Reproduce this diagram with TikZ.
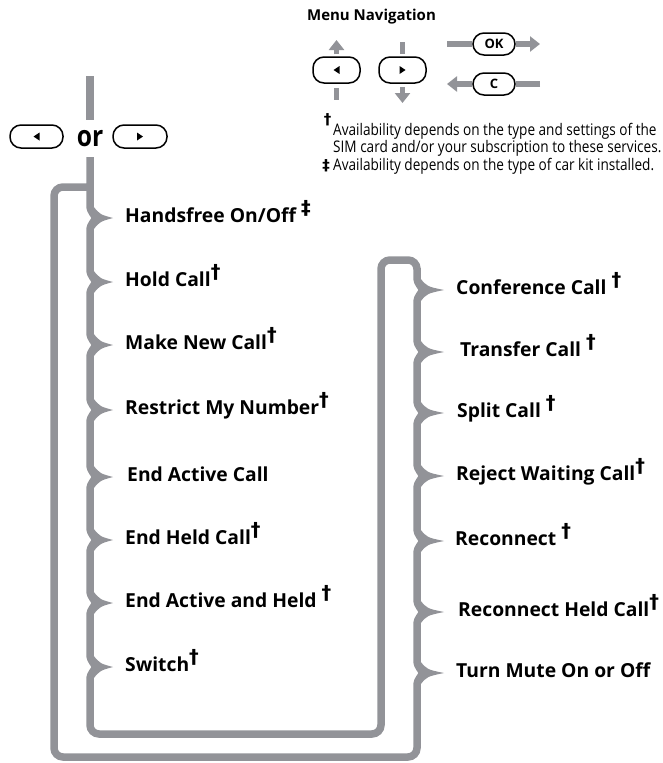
\documentclass[tikz,border=0pt]{standalone}
\usepackage{fontspec}
\setmainfont{Open Sans}
\newfontfamily\narrowfont[FakeStretch=0.85]{Open Sans}
\newfontfamily\markfont{DejaVu Sans}
\usetikzlibrary{arrows.meta,calc}
\definecolor{navgrey}{RGB}{146,147,152}
\newcommand{\dg}{\raisebox{0.38em}{\markfont\bfseries †}}
\newcommand{\ddg}{\raisebox{0.38em}{\markfont\bfseries ‡}}
\begin{document}
\begin{tikzpicture}[x=1pt,y=-1pt,
  navline/.style={navgrey,line width=7.5pt},
  navbar/.style={navgrey,line width=5.5pt},
  navarrow/.style={navbar,-{Triangle[width=15pt,length=10pt]}},
  key/.style={draw,line width=1.5pt,rounded corners=11pt,minimum width=47pt,minimum height=26pt,inner sep=0pt},
  item/.style={anchor=west,inner sep=0pt,text height=11pt,text depth=3pt,font=\fontsize{19.3}{21}\selectfont\bfseries},
  note/.style={anchor=base west,inner sep=0pt,font=\narrowfont\fontsize{16}{18}\selectfont}]
\useasboundingbox (0,0) rectangle (662,763);
% menu navigation key
\node[font=\bfseries\fontsize{15}{17}\selectfont] (title) at (371.5,17) {Menu Navigation};
\node[key] (lb) at (336.5,70) {};
\node[key] (rb) at (402.5,70) {};
\fill ([xshift=-3pt]lb.center) -- ++(6,-4) -- ++(0,8) -- cycle;
\fill ([xshift=3pt]rb.center) -- ++(-6,-4) -- ++(0,8) -- cycle;
\coordinate (lbup) at (336.5,40);
\coordinate (lbdown) at (336.5,100);
\coordinate (rbup) at (402.5,42);
\coordinate (rbdown) at (402.5,103);
\draw[navarrow] ([yshift=2pt]lb.north) -- (lbup);
\draw[navbar] ([yshift=-4pt]lb.south) -- (lbdown);
\draw[navbar] (rbup) -- ([yshift=2pt]rb.north);
\draw[navarrow] ([yshift=-3pt]rb.south) -- (rbdown);
\node[key,minimum width=42pt,minimum height=22pt,font=\bfseries\fontsize{13}{13}\selectfont] (ok) at (494,44) {OK};
\node[key,minimum width=42pt,minimum height=22pt,font=\bfseries\fontsize{13}{13}\selectfont] (c) at (494,84) {C};
\coordinate (okin) at (447,44);
\coordinate (okout) at (540,44);
\coordinate (cout) at (447,84);
\coordinate (cin) at (540,84);
\draw[navbar] (okin) -- (ok);
\draw[navarrow] (ok) -- (okout);
\draw[navbar] (cin) -- (c);
\draw[navarrow] (c) -- (cout);
% footnotes
\node[note] (n1) at (333,135) {Availability depends on the type and settings of the};
\node[note] (n2) at (333,152.5) {SIM card and/or your subscription to these services.};
\node[note] (n3) at (333,170) {Availability depends on the type of car kit installed.};
\node[anchor=base east,inner sep=0pt,font=\markfont\bfseries\fontsize{15}{15}\selectfont] (d1) at ([xshift=-1.5pt,yshift=11pt]n1.base west) {†};
\node[anchor=base east,inner sep=0pt,font=\markfont\bfseries\fontsize{15}{15}\selectfont] (d2) at ([xshift=-3pt]n3.base west) {‡};
% left / right keys
\node[key,minimum width=53pt,minimum height=23pt] (kl) at (36.5,136.5) {};
\node[key,minimum width=54pt,minimum height=23pt] (kr) at (140,136.5) {};
\fill ([xshift=-3pt]kl.center) -- ++(6,-4) -- ++(0,8) -- cycle;
\fill ([xshift=3pt]kr.center) -- ++(-6,-4) -- ++(0,8) -- cycle;
\node[inner sep=0pt,minimum height=37pt,font=\narrowfont\bfseries\fontsize{29}{29}\selectfont] (or) at (90,138.5) {or};
% menu items
\node[item] (hf) at (125,218) {Handsfree On/Off \ddg};
\node[item] (hold) at (125,282) {Hold Call\dg};
\node[item] (mnc) at (125,345) {Make New Call\dg};
\node[item] (rmn) at (125,410) {Restrict My Number\dg};
\node[item] (eac) at (127,477) {End Active Call};
\node[item] (ehc) at (125,540) {End Held Call\dg};
\node[item] (eah) at (125,603) {End Active and Held \dg};
\node[item] (sw) at (125,667) {Switch\dg};
\node[item] (conf) at (456,290) {Conference Call \dg};
\node[item] (tc) at (460,352) {Transfer Call \dg};
\node[item] (split) at (457,413) {Split Call \dg};
\node[item] (rwc) at (456,476) {Reject Waiting Call\dg};
\node[item] (rc) at (455,541) {Reconnect \dg};
\node[item] (rhc) at (458,612) {Reconnect Held Call\dg};
\node[item] (mute) at (456,673) {Turn Mute On or Off};
% menu loop
\coordinate (feed) at (90,76);
\coordinate (lcol) at (90,0);
\coordinate (rcol) at (417,0);
\draw[navline] (feed) -- (or.north);
\draw[navline] (or.south)
  \foreach \y in {218,282,345,410,477,540,603,667}
    {-- (90,\y-13) .. controls (90,\y-5) and (95,\y-4) .. (95,\y) .. controls (95,\y+4) and (90,\y+5) .. (90,\y+13)}
  [rounded corners=9pt] -- (90,734) -- (381,734) -- (381,260) -- (417,260) -- (417,277) [sharp corners]
  \foreach \y in {290,352,413,476,541,612,673}
    {-- (417,\y-13) .. controls (417,\y-5) and (422,\y-4) .. (422,\y) .. controls (422,\y+4) and (417,\y+5) .. (417,\y+13)}
  [rounded corners=9pt] -- (417,757) -- (54,757) -- (54,187) -- (86,187);
\foreach \n in {hf,hold,mnc,rmn,eac,ehc,eah,sw}
  \fill[navgrey] ($(lcol |- \n.west)+(3,-12)$) .. controls ($(lcol |- \n.west)+(10,-3.5)$) .. ($(lcol |- \n.west)+(23,0)$)
    .. controls ($(lcol |- \n.west)+(10,3.5)$) .. ($(lcol |- \n.west)+(3,12)$) -- cycle;
\foreach \n in {conf,tc,split,rwc,rc,rhc,mute}
  \fill[navgrey] ($(rcol |- \n.west)+(3,-12)$) .. controls ($(rcol |- \n.west)+(10,-3.5)$) .. ($(rcol |- \n.west)+(27,0)$)
    .. controls ($(rcol |- \n.west)+(10,3.5)$) .. ($(rcol |- \n.west)+(3,12)$) -- cycle;
\end{tikzpicture}
\end{document}
